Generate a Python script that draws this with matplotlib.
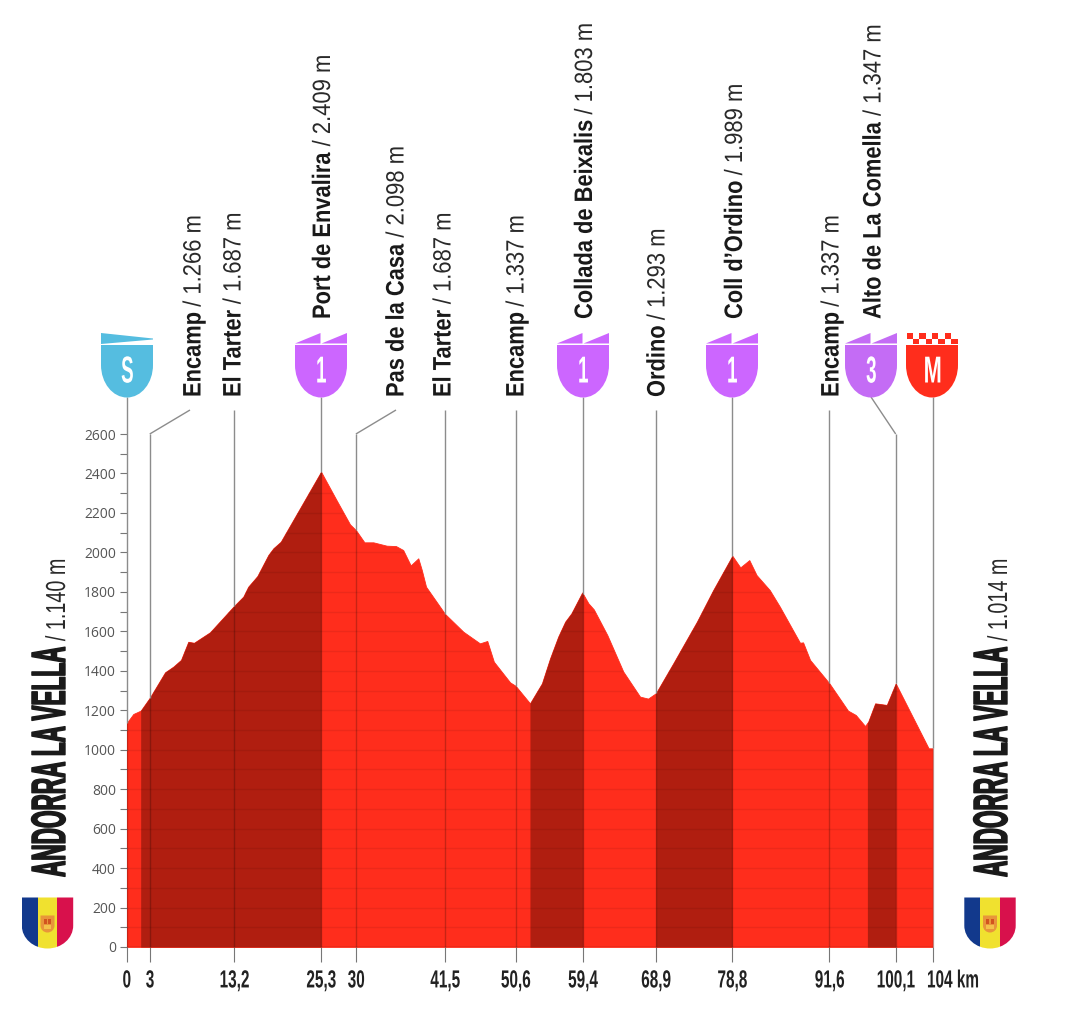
import numpy as np
import matplotlib
matplotlib.use("Agg")
import matplotlib.pyplot as plt
from matplotlib.path import Path
from matplotlib.patches import PathPatch, Rectangle, Polygon
from matplotlib.text import Text
from matplotlib.textpath import TextPath
from matplotlib.transforms import Affine2D, Bbox
from matplotlib.colors import to_rgba

# ---------- data ----------
km = [0, .88, 1.83, 3.03, 4.97, 6.04, 7.03, 7.97, 8.71, 10.77, 13.91, 15.07, 15.7, 16.88, 18.3, 18.95, 19.9, 25.1,
      27.1, 28.84, 29.6, 30.7, 31.85, 33.57, 34.77, 35.7, 36.67, 37.65, 38.1, 38.65, 41.1, 43.46, 45.6, 46.55, 47.4,
      49.5, 50.2, 52.06, 53.6, 54.65, 55.7, 56.6, 57.4, 58.8, 59.6, 60.3, 62.04, 64.1, 66.26, 67.3, 68.3, 70.55,
      73.6, 75.7, 78.17, 79.2, 80.36, 81.3, 83, 84.3, 86.9, 87.3, 88.2, 90.7, 93.1, 94.1, 95.3, 95.7, 96.6, 98.1,
      99.25, 103.5, 104]
elev = [1134, 1181, 1198, 1265, 1392, 1421, 1455, 1547, 1542, 1595, 1730, 1776, 1826, 1880, 1987, 2021, 2054, 2409,
        2265, 2142, 2113, 2051, 2051, 2034, 2032, 2012, 1934, 1970, 1911, 1826, 1688, 1598, 1539, 1551, 1446,
        1341, 1324, 1235, 1336, 1463, 1573, 1649, 1691, 1797, 1742, 1711, 1581, 1396, 1269, 1259, 1286, 1438,
        1649, 1809, 1983, 1924, 1961, 1885, 1809, 1725, 1542, 1544, 1455, 1336, 1198, 1176, 1120, 1142, 1235, 1227,
        1336, 1007, 1007]
climb_start = [1.83, 52.06, 68.3, 95.6]
climb_end = [25.1, 58.9, 78.15, 99.25]
tick_km = [0, 3.0, 13.9, 25.1, 29.6, 41.1, 50.2, 58.9, 68.3, 78.15, 90.7, 99.25, 104]
tick_text = ["0", "3", "13,2", "25,3", "30", "41,5", "50,6", "59,4", "68,9", "78,8", "91,6", "100,1", "104 km"]
y_major = list(range(0, 2601, 200))
y_all = list(range(0, 2601, 100))
pass_names = ["Encamp", "El Tarter", "Port de Envalira", "Pas de la Casa", "El Tarter", "Encamp",
              "Collada de Beixalis", "Ordino", "Coll d\u2019Ordino", "Encamp", "Alto de La Comella"]
pass_heights = ["1.266 m", "1.687 m", "2.409 m", "2.098 m", "1.687 m", "1.337 m",
                "1.803 m", "1.293 m", "1.989 m", "1.337 m", "1.347 m"]
start_name, start_height = "ANDORRA LA VELLA", "1.140 m"
finish_name, finish_height = "ANDORRA LA VELLA", "1.014 m"

# ---------- layout ----------
W, H = 1074, 1027
RED, DARK = "#ff2d1c", "#b01e10"
BLUE, PURPLE = "#55bde0", "#cc66ff"
SANS = "Liberation Sans"


class SqueezedText(Text):
    """Real text drawn with horizontally condensed glyphs (the reference face is condensed)."""
    squeeze = 1.0
    stroke = 0.0

    def _local(self):
        size = self.get_fontsize() * self.figure.dpi / 72
        tp = TextPath((0, 0), self.get_text(), size=size, prop=self.get_fontproperties())
        wid = tp.get_extents().x1 * self.squeeze
        cap = size * 0.72
        return tp, wid, cap

    def _affine(self):
        tp, wid, cap = self._local()
        rot = self.get_rotation() % 360 == 90
        x0, x1, y0, y1 = (-cap, 0, 0, wid) if rot else (0, wid, 0, cap)
        ax_, ay_ = self.get_transform().transform(self.get_unitless_position())
        ha, va = self.get_ha(), self.get_va()
        dx = {"left": -x0, "right": -x1}.get(ha, -(x0 + x1) / 2)
        dy = {"bottom": -y0, "baseline": -y0, "top": -y1}.get(va, -(y0 + y1) / 2)
        t = Affine2D().scale(self.squeeze, 1)
        if rot:
            t = t.rotate_deg(90)
        t = t.translate(ax_ + dx, ay_ + dy)
        box = Bbox([[ax_ + dx + x0, ay_ + dy + y0], [ax_ + dx + x1, ay_ + dy + y1]])
        return tp, t, box

    def _get_layout(self, renderer):
        if not self.get_text():
            return Bbox([[0, 0], [0, 0]]), [], 0
        ax_, ay_ = self.get_transform().transform(self.get_unitless_position())
        return self._affine()[2].translated(-ax_, -ay_), [], 0

    def get_window_extent(self, renderer=None, dpi=None):
        if not self.get_text():
            x, y = self.get_transform().transform(self.get_unitless_position())
            return Bbox([[x, y], [x, y]])
        return self._affine()[2]

    def draw(self, renderer):
        if not self.get_visible() or not self.get_text():
            return
        tp, t, _ = self._affine()
        gc = renderer.new_gc()
        col = to_rgba(self.get_color())
        gc.set_foreground(col)
        gc.set_antialiased(True)
        gc.set_linewidth(self.stroke)
        renderer.draw_path(gc, tp, t, col)
        gc.restore()
        self.stale = False


def stext(axes, x, y, s, squeeze=1.0, stroke=0.0, **kw):
    t = SqueezedText(x, y, s, **kw)
    t.squeeze, t.stroke = squeeze, stroke
    axes._add_text(t)
    return t


fig = plt.figure(figsize=(W / 100, H / 100), dpi=100, facecolor="white")
ax = fig.add_axes([126.5 / W, (H - 947) / H, 806 / W, 513 / H])
ax.set_xlim(0, 104)
ax.set_ylim(0, 2600)
ax.patch.set_alpha(0)
for s in ax.spines.values():
    s.set_visible(False)

# profile
ax.fill_between(km, elev, 0, color=RED, lw=0.6, zorder=1)
for a, b in zip(climb_start, climb_end):
    xs = np.array([a] + [k for k in km if a < k < b] + [b])
    ax.fill_between(xs, np.interp(xs, km, elev), 0, color=DARK, lw=0, zorder=2)
clip = Polygon(np.column_stack([[0] + km + [104], [0] + elev + [0]]), closed=True, transform=ax.transData)
for v in y_all[1:]:
    ln = ax.axhline(v, color="black", alpha=0.07, lw=1, zorder=3)
    ln.set_clip_path(clip)
ax.axhline(0, color="#a02015", lw=1, zorder=3)

# axes
ax.set_yticks(y_all, [str(v) if v in y_major else "" for v in y_all],
              fontsize=10, family="Open Sans", color="#555555")
ax.tick_params(axis="y", length=5.2, width=0.8, color="#777777", pad=2.5)
ax.set_xticks(tick_km, tick_text, fontsize=17.8, family=SANS, fontweight="bold", color="#222222")
ax.tick_params(axis="x", length=10.5, width=0.8, color="#777777", pad=5.8)
xlabels = [tk.label1 for tk in ax.xaxis.get_major_ticks()]
for lb in xlabels:
    lb.__class__ = SqueezedText
    lb.squeeze = 0.62
xlabels[-1].set_ha("left")
xlabels[-1].set_transform(xlabels[-1].get_transform() + Affine2D().translate(-5.5, 0))

# overlay in pixel coordinates for the decoration
ov = fig.add_axes([0, 0, 1, 1])
ov.set_xlim(0, W)
ov.set_ylim(H, 0)
ov.axis("off")
ov.patch.set_alpha(0)
def kpx(k):
    return 126.5 + k / 104 * 806
def epx(e):
    return 947 - e * 513 / 2600

GRAY = dict(color="#8c8c8c", lw=1, zorder=5, solid_capstyle="butt")
SHADE = dict(color="black", alpha=0.22, lw=1, zorder=5, solid_capstyle="butt")
def vline(k, top):
    x = kpx(k)
    surf = epx(float(np.interp(k, km, elev)))
    ov.plot([x, x], [top, surf], **GRAY)
    ov.plot([x, x], [surf, 947], **SHADE)

line_km = [3.0, 13.9, 25.1, 29.6, 41.1, 50.2, 58.9, 68.3, 78.15, 90.7, 99.25]
tops = [434, 410, 397, 434, 410, 410, 397, 410, 397, 410, 434]
for k, top in zip(line_km, tops):
    vline(k, top)
ov.plot([kpx(3.0), 190], [434, 410], **GRAY)
ov.plot([kpx(29.6), 396], [434, 410], **GRAY)
ov.plot([kpx(99.25), 871], [434, 397], **GRAY)
vline(0, 397)
vline(104, 397)

# pass labels (baseline position on the right of the rotated text)
lab_x = [200.5, 240.5, 330, 403.5, 450.5, 523.5, 592, 664.5, 742, 838.5, 880.5]
lab_y = [397, 397, 319, 397, 397, 397, 319, 397, 319, 397, 319]
inv = ov.transData.inverted()
def two_part(x, y, bold, rest, size_b, size_r, sq_b, sq_r, stroke=0.0, gap=6):
    t = stext(ov, x, y, bold, squeeze=sq_b, stroke=stroke, rotation=90, ha="right", va="bottom",
              fontsize=size_b, family=SANS, fontweight="bold", color="#1a1a1a", zorder=8)
    top = inv.transform((0, t.get_window_extent().y1))[1]
    stext(ov, x, top - gap, rest, squeeze=sq_r, rotation=90, ha="right", va="bottom",
          fontsize=size_r, family=SANS, color="#2a2a2a", zorder=8)
for x, y, n, h in zip(lab_x, lab_y, pass_names, pass_heights):
    two_part(x, y, n, "/ " + h, 18.2, 18, 0.865, 0.88)

two_part(65, 877, start_name, "/ " + start_height, 34.6, 19.8, 0.47, 0.72, stroke=1.0)
two_part(1007, 877, finish_name, "/ " + finish_height, 34.6, 19.8, 0.47, 0.72, stroke=1.0)

# shields
def shield_path(cx, top, half, bottom, straight):
    y0 = top + (bottom - top) * straight
    c = 0.5523
    verts = [(cx - half, top), (cx + half, top), (cx + half, y0),
             (cx + half, y0 + c * (bottom - y0)), (cx + c * half, bottom), (cx, bottom),
             (cx - c * half, bottom), (cx - half, y0 + c * (bottom - y0)), (cx - half, y0),
             (cx - half, top)]
    codes = [Path.MOVETO, Path.LINETO, Path.LINETO, Path.CURVE4, Path.CURVE4, Path.CURVE4,
             Path.CURVE4, Path.CURVE4, Path.CURVE4, Path.CLOSEPOLY]
    return Path(verts, codes)
def badge(cx, color, label, sq=0.5):
    ov.add_patch(PathPatch(shield_path(cx, 345, 26, 397.5, 0.38), fc=color, ec="none", zorder=6))
    stext(ov, cx, 369, label, squeeze=sq, ha="center", va="center", color="white", fontsize=27,
          family=SANS, fontweight="bold", zorder=7)
badge(127, BLUE, "S")
ov.add_patch(Polygon([(101, 333), (153, 338.5), (153, 339.5), (101, 344)], closed=True, fc=BLUE, ec="none", zorder=6))
for cx, lab, col in [(321, "1", PURPLE), (583, "1", PURPLE), (732, "1", PURPLE), (871, "3", "#c46cf5")]:
    badge(cx, col, lab)
    ov.add_patch(Polygon([(cx - 26, 343.5), (cx - 0.5, 333), (cx - 0.5, 343.5)], closed=True, fc=col, ec="none", zorder=6))
    ov.add_patch(Polygon([(cx + 0.5, 343.5), (cx + 26, 333), (cx + 26, 343.5)], closed=True, fc=col, ec="none", zorder=6))
badge(932, RED, "M", sq=0.58)
for sx in (906.5, 919.3, 932, 945):
    ov.add_patch(Rectangle((sx, 333), 6.2, 5.5, fc=RED, ec="none", zorder=6))
    ov.add_patch(Rectangle((sx + 6.2, 338.5), 6.6, 5.8, fc=RED, ec="none", zorder=6))

# Andorra flags
def flag(cx):
    p = PathPatch(shield_path(cx, 897.5, 25.7, 948.5, 0.55), fc="none", ec="none", zorder=6)
    ov.add_patch(p)
    for x0, w, c in [(cx - 26, 16.3, "#12398c"), (cx - 9.8, 19.6, "#f0e12f"), (cx + 9.8, 16.3, "#d8114c")]:
        r = Rectangle((x0, 897), w, 53, fc=c, ec="none", zorder=6)
        ov.add_patch(r)
        r.set_clip_path(p)
    ov.add_patch(PathPatch(shield_path(cx, 915.5, 7, 932.5, 0.6), fc="#e8953a", ec="none", zorder=7))
    ov.add_patch(Rectangle((cx - 3.8, 919), 3.2, 5, fc="#d2541e", ec="none", zorder=8))
    ov.add_patch(Rectangle((cx + 0.6, 919), 3.2, 5, fc="#d2541e", ec="none", zorder=8))
    ov.add_patch(Rectangle((cx - 3.8, 925), 7.6, 3.5, fc="#f4c14a", ec="none", zorder=8))
flag(47.5)
flag(990)

fig.savefig("out.png", dpi=100, facecolor="white")
